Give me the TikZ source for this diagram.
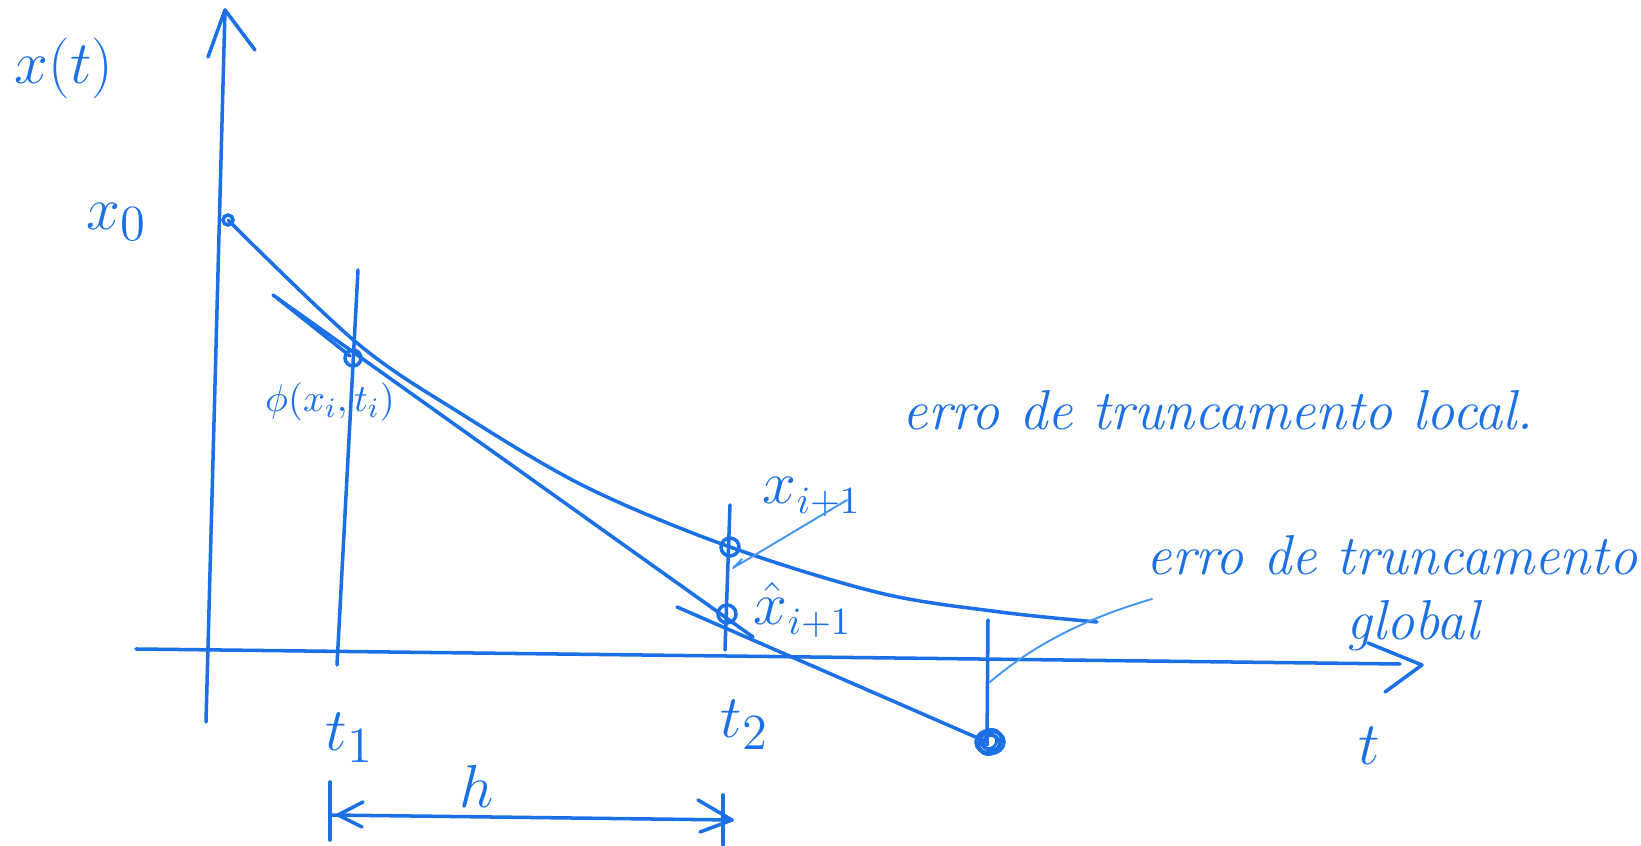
\documentclass[tikz,border=0pt]{standalone}
\usetikzlibrary{arrows.meta}
\definecolor{pen}{RGB}{28,112,230}
\definecolor{penlight}{RGB}{70,150,240}
\begin{document}
\begin{tikzpicture}[x=0.01cm,y=-0.01cm,
  ink/.style={draw=pen,line width=1pt,line cap=round,line join=round},
  thinink/.style={draw=penlight,line width=0.55pt,line cap=round,line join=round},
  lbl/.style={text=pen,inner sep=0pt,font=\fontsize{19}{23}\selectfont},
  sublbl/.style={text=pen,inner sep=0pt,font=\fontsize{16}{19}\selectfont},
  words/.style={text=pen,inner sep=0pt,font=\itshape\fontsize{16}{21}\selectfont},
  ptcirc/.style={draw=pen,line width=1pt}
]
\useasboundingbox (0,0) rectangle (1641,846);

% ---- axes ----
\coordinate (yb) at (206,722);
\coordinate (yt) at (225,10);
\draw[ink] (yb) -- (yt);
\draw[ink] (208,57) -- (yt) -- (255,50);

\coordinate (xl) at (136,649);
\coordinate (xr) at (1400,664);
\coordinate (xtip) at (1422,665);
\draw[ink] (xl) -- (xr);
\draw[ink] (1368,643) -- (xtip) -- (1385,692);

% ---- exact solution curve ----
\coordinate (x0) at (228,220);
\coordinate (xi) at (730,547);
\draw[ink] plot[smooth,tension=0.55] coordinates {(228,220) (357,343) (460,413) (586,487) (730,547) (880,593) (1000,612) (1097,622)};

% ---- Euler steps ----
\coordinate (e1a) at (273,295);
\coordinate (e1b) at (753,637);
\draw[ink] (e1a) -- (e1b);
\draw[ink] (277,298) -- (350,356);
\coordinate (e2a) at (677,607);
\coordinate (e2b) at (987,742);
\draw[ink] (e2a) -- (e2b);

% ---- vertical lines ----
\draw[ink] (358,270) -- (337,665);
\draw[ink] (730,505) -- (725,650);
\draw[ink] (988,620) -- (987,745);

% ---- points ----
\draw[ptcirc] (x0) circle[radius=5];
\draw[ptcirc] (353,358) circle[radius=8];
\draw[ptcirc] (xi) circle[radius=9];
\coordinate (xh) at (727,614);
\draw[ptcirc] (xh) circle[radius=9];
\foreach \a/\r in {0/12,30/10,60/11,-20/8,45/6}{
  \draw[ptcirc,line width=0.8pt] (990,742) ellipse[x radius=\r*1.2,y radius=\r, rotate=\a];
}

% ---- step h ----
\coordinate (ha) at (330,815);
\coordinate (hb) at (732,820);
\draw[ink] (ha) -- (hb);
\draw[ink] (330,782) -- (330,840);
\draw[ink] (723,795) -- (723,845);
\draw[ink] (363,802) -- (338,815) -- (362,827);
\draw[ink] (698,800) -- (hb) -- (700,832);

% ---- labels ----
\node[lbl] (lxt) at (64,68) {$x(t)$};
\node[lbl] (lx0) at (117,222) {$x_0$};
\node[text=pen,inner sep=0pt,font=\fontsize{11}{13}\selectfont] (lphi) at (330,402) {$\phi(x_i,t_i)$};
\node[lbl] (lt1) at (350,738) {$t_1$};
\node[lbl] (lt2) at (745,725) {$t_2$};
\node[lbl] (lh) at (477,786) {$h$};
\node[lbl] (lt) at (1369,746) {$t$};
\node[sublbl] (lxi) at (812,497) {$x_{i+1}$};
\node[sublbl] (lxh) at (803,610) {$\hat{x}_{i+1}$};

\node[words,anchor=base west] (lloc) at (902,430) {erro de truncamento local.};
\node[words,anchor=base] (lglob1) at (1392,575) {erro de truncamento};
\node[words,anchor=base] (lglob2) at (1413,640) {global};

% ---- leader lines ----
\coordinate (lxiend) at (733,568);
\draw[thinink] (847,500) -- (lxiend) -- (742,559);
\coordinate (gstart) at (1152,599);
\coordinate (gend) at (990,682);
\draw[thinink] (gstart) .. controls (1080,620) and (1030,648) .. (gend);
\end{tikzpicture}
\end{document}
